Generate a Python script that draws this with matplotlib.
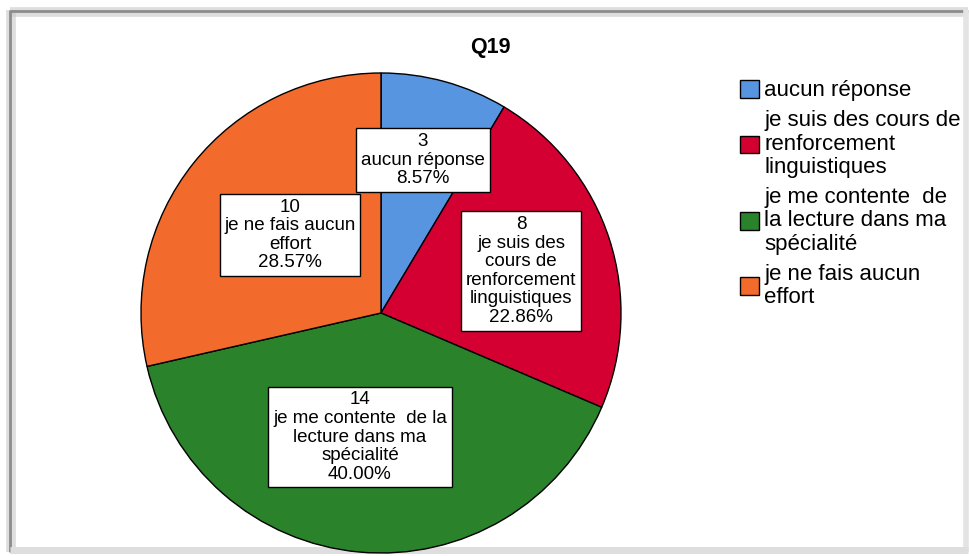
import matplotlib.pyplot as plt
from matplotlib.lines import Line2D

plt.rcParams['font.family'] = ['Liberation Sans', 'DejaVu Sans']

title = "Q19"
categories = ["aucun réponse",
              "je suis des cours de\nrenforcement\nlinguistiques",
              "je me contente  de\nla lecture dans ma\nspécialité",
              "je ne fais aucun\neffort"]
box_names = ["aucun réponse",
             "je suis des\ncours de\nrenforcement\nlinguistiques",
             "je me contente  de la\nlecture dans ma\nspécialité",
             "je ne fais aucun\neffort"]
counts = [3, 8, 14, 10]
colors = ["#5795E0", "#D50032", "#2A822A", "#F26B2C"]

# label box centres (pixel positions in the picture)
box_px = [(423, 160), (521, 271), (360, 437), (290, 235)]

W, H = 970, 556
cx, cy, r = 381, 313, 240

fig = plt.figure(figsize=(W / 100, H / 100), dpi=100)


def frame_line(xs, ys, col, lw, a):
    fig.lines.append(Line2D([x / W for x in xs], [1 - y / H for y in ys],
                            transform=fig.transFigure, color=col, lw=lw,
                            alpha=a, zorder=-5, solid_capstyle="butt"))


# soft grey frame: dark on top and left, light on right and bottom
frame_line([10, 968], [12, 12], "#c8c8c8", 7, 0.6)
frame_line([11, 11], [10, 552], "#c8c8c8", 7, 0.6)
frame_line([10, 968], [11, 11], "#8c8c8c", 2, 1)
frame_line([10, 10], [10, 552], "#8c8c8c", 2, 1)
frame_line([966, 966], [10, 552], "#e4e4e4", 4, 1)
frame_line([10, 968], [550, 550], "#dedede", 5, 1)

ax = fig.add_axes([(cx - r) / W, (H - cy - r) / H, 2 * r / W, 2 * r / H])
wedges, _ = ax.pie(counts, colors=colors, startangle=90, counterclock=False,
                   radius=1, wedgeprops=dict(edgecolor="black", linewidth=1))
ax.set_xlim(-1, 1)
ax.set_ylim(-1, 1)
ax.set_axis_off()

total = sum(counts)
for (px, py), n, name in zip(box_px, counts, box_names):
    pct = n / total * 100
    ax.text((px - cx) / r, (cy - py) / r, f"{n}\n{name}\n{pct:.2f}%",
            ha="center", va="center", fontsize=13.5, linespacing=1.12,
            bbox=dict(boxstyle="square,pad=0.25", fc="white", ec="black", lw=1))

fig.text(490 / W, 1 - 48 / H, title, ha="center", va="center",
         fontsize=15.5, fontweight="bold")

leg = fig.legend(wedges, categories, loc="upper left",
                 bbox_to_anchor=(731 / W, 1 - 71 / H), frameon=False,
                 fontsize=16, handlelength=0.85, handleheight=0.85,
                 handletextpad=0.25, labelspacing=0.4, borderaxespad=0)
for t in leg.get_texts():
    t.set_linespacing(1.15)

fig.savefig("out.png", dpi=100)
